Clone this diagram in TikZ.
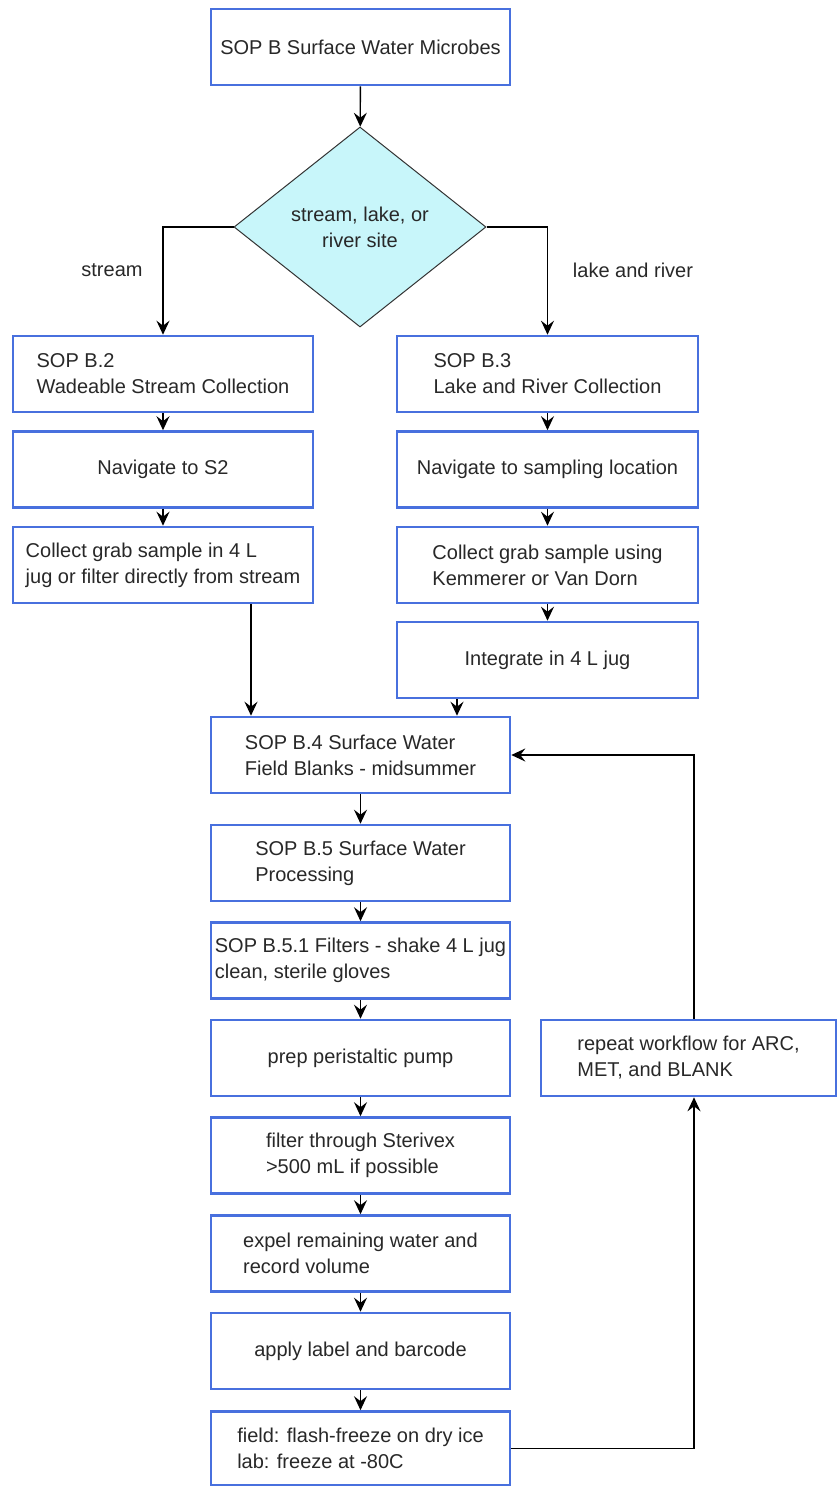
\documentclass[tikz,border=0pt]{standalone}
\usepackage{fontspec}
\setmainfont{Liberation Sans}
\usetikzlibrary{arrows.meta,shapes.geometric}

\definecolor{boxblue}{RGB}{72,112,222}
\definecolor{diafill}{RGB}{200,246,250}
\definecolor{txtgray}{RGB}{40,40,40}

\tikzset{
	stepbox/.style={draw=boxblue, line width=2.6pt, fill=white, align=left, inner sep=2pt,
		minimum height=76pt, text=txtgray, font=\fontsize{20}{26}\selectfont},
	leftcol/.style={stepbox, minimum width=300pt},
	rightcol/.style={stepbox, minimum width=301pt},
	midcol/.style={stepbox, minimum width=299pt},
	decision/.style={diamond, draw=black!80, line width=1pt, fill=diafill, align=center, inner sep=0pt,
		minimum width=252pt, minimum height=200pt, text=txtgray, font=\fontsize{20}{26}\selectfont},
	branch/.style={text=txtgray, font=\fontsize{20}{26}\selectfont},
	arr/.style={draw=black, line width=1.3pt, -{Stealth[length=14pt,width=13pt,inset=5pt]}}
}

\begin{document}
\begin{tikzpicture}[x=1pt,y=-1pt]
			\useasboundingbox (0,0) rectangle (838,1486);
			% top and decision
			\node[midcol]   at (360.5,47)  (top)  {SOP B Surface Water Microbes};
			\node[decision] at (360,227)   (site) {stream, lake, or\\river site};
			\node[branch]   at (112,270)   (lstream) {stream};
			\node[branch]   at (633,270)   (llake)   {lake and river};
			% stream column
			\node[leftcol]  at (163,374)   (bTwo)   {SOP B.2\\Wadeable Stream Collection};
			\node[leftcol]  at (163,469.5) (navS)   {Navigate to S2};
			\node[leftcol]  at (163,565)   (grabS)  {Collect grab sample in 4 L\\jug or filter directly from stream};
			% lake and river column
			\node[rightcol] at (547.5,374)   (bThree) {SOP B.3\\Lake and River Collection};
			\node[rightcol] at (547.5,469.5) (navL)   {Navigate to sampling location};
			\node[rightcol] at (547.5,565)   (grabL)  {Collect grab sample using\\Kemmerer or Van Dorn};
			\node[rightcol] at (547.5,660)   (integ)  {Integrate in 4 L jug};
			% processing
			\node[midcol]   at (360.5,755)    (bFour)  {SOP B.4 Surface Water\\Field Blanks - midsummer};
			\node[midcol]   at (360.5,863)    (bFive)  {SOP B.5 Surface Water\\Processing};
			\node[midcol]   at (360.5,960.5)  (bFiveOne) {SOP B.5.1 Filters - shake 4 L jug\\clean, sterile gloves};
			\node[midcol]   at (360.5,1058)   (pump)   {prep peristaltic pump};
			\node[midcol]   at (360.5,1155.5) (sterivex) {filter through Sterivex\\>500 mL if possible};
			\node[midcol]   at (360.5,1253.5) (expel)  {expel remaining water and\\record volume};
			\node[midcol]   at (360.5,1351)   (label)  {apply label and barcode};
			\node[midcol, minimum height=74pt] at (360.5,1448.5) (freeze) {field: flash-freeze on dry ice\\lab: freeze at -80C};
			\node[stepbox, minimum width=295pt] at (688.5,1058) (repeat) {repeat workflow for ARC,\\MET, and BLANK};
			\coordinate (loop) at (694,1058);
			% connectors
			\draw[arr] (top) -- (site);
			\draw[arr] (site.west) -| (bTwo.north);
			\draw[arr] (site.east) -| (bThree.north);
			\draw[arr] (bTwo) -- (navS);
			\draw[arr] (navS) -- (grabS);
			\draw[arr] (bThree) -- (navL);
			\draw[arr] (navL) -- (grabL);
			\draw[arr] (grabL) -- (integ);
			\draw[arr] ([xshift=88pt]grabS.south) -- ([xshift=88pt]grabS.south |- bFour.north);
			\draw[arr] ([xshift=-90.5pt]integ.south) -- ([xshift=-90.5pt]integ.south |- bFour.north);
			\draw[arr] (bFour) -- (bFive);
			\draw[arr] (bFive) -- (bFiveOne);
			\draw[arr] (bFiveOne) -- (pump);
			\draw[arr] (pump) -- (sterivex);
			\draw[arr] (sterivex) -- (expel);
			\draw[arr] (expel) -- (label);
			\draw[arr] (label) -- (freeze);
			\draw[arr] (freeze.east) -| (loop |- repeat.south);
			\draw[arr] (loop |- repeat.north) |- (bFour.east);
		\end{tikzpicture}
\end{document}
